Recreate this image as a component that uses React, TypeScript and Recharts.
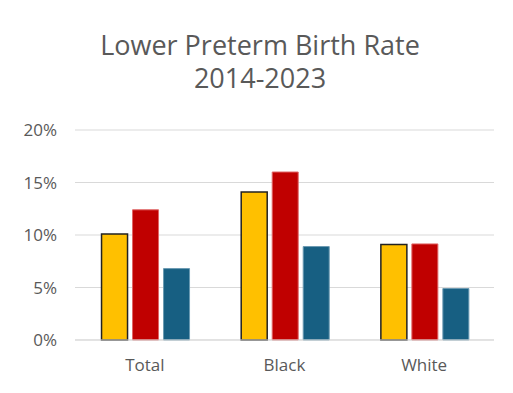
import React from "react";
import { BarChart, Bar, XAxis, YAxis, CartesianGrid } from "recharts";

const categories = ["Total", "Black", "White"];
const series1 = [10.1, 14.1, 9.1];
const series2 = [12.4, 16.0, 9.15];
const series3 = [6.8, 8.9, 4.9];
const yTicks = [0, 5, 10, 15, 20];
const titleLines = ["Lower Preterm Birth Rate", "2014-2023"];

const data = categories.map((c, i) => ({ name: c, a: series1[i], b: series2[i], c: series3[i] }));

const FONT = "'Open Sans', sans-serif";
const GRAY = "#595959";

export default function App() {
  return (
    <div style={{ position: "relative", width: 513, height: 393, margin: -8, overflow: "hidden", background: "#fff", fontFamily: FONT }}>
      <div style={{ position: "absolute", left: 0, top: 0 }}>
        <BarChart width={513} height={393} data={data} margin={{ top: 130, right: 19, bottom: 23, left: 0 }} barCategoryGap="19%" barGap={5}>
          <CartesianGrid vertical={false} stroke="#d9d9d9" strokeWidth={1} />
          <XAxis dataKey="name" axisLine={{ stroke: "#d9d9d9" }} tickLine={false} tickSize={0} tickMargin={19} height={30} tick={{ fill: GRAY, fontSize: 17, fontFamily: FONT }} />
          <YAxis domain={[0, 20]} ticks={yTicks} width={75} axisLine={false} tickLine={false} tickSize={0} tickMargin={18} tickFormatter={(v) => `${v}%`} tick={{ fill: GRAY, fontSize: 17, fontFamily: FONT }} />
          <Bar dataKey="a" fill="#FFC000" stroke="#222" strokeWidth={1.5} isAnimationActive={false} />
          <Bar dataKey="b" fill="#C00000" stroke="#e06666" strokeWidth={1} isAnimationActive={false} />
          <Bar dataKey="c" fill="#175F82" stroke="#6a9ab2" strokeWidth={1} isAnimationActive={false} />
        </BarChart>
      </div>
      <div style={{ position: "absolute", left: 7, top: 6, width: 1, height: 387, background: "#c8c8c8" }} />
      <div style={{ position: "absolute", left: 7, top: 6, width: 506, height: 1, background: "#c8c8c8" }} />
      <div style={{ position: "absolute", left: 60, width: 400, top: 28, textAlign: "center", fontSize: 27, color: GRAY, lineHeight: "33px", whiteSpace: "pre" }}>
        {titleLines.join("\n")}
      </div>
      <div style={{ position: "absolute", left: 212, top: 384, fontSize: 16, color: GRAY, whiteSpace: "nowrap" }}>Figure 1</div>
    </div>
  );
}
